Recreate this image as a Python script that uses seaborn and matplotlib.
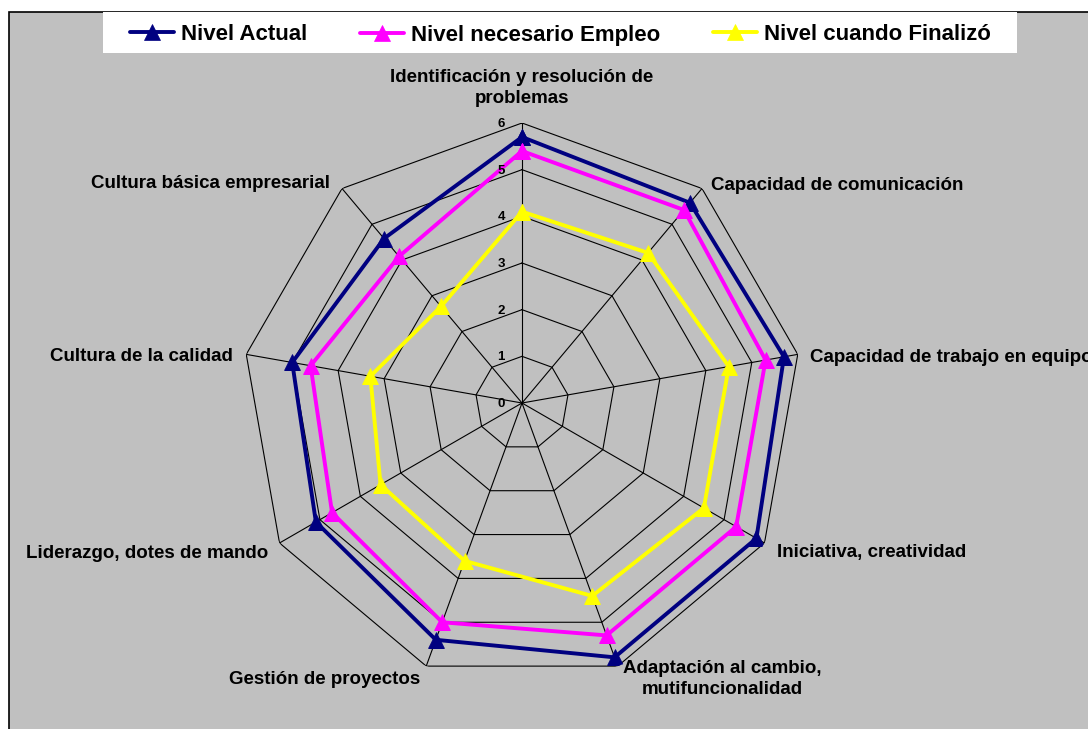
import numpy as np
import pandas as pd
import matplotlib
matplotlib.use("Agg")
import matplotlib.pyplot as plt
from matplotlib.patches import Rectangle
import seaborn as sns

categorias = [
    "Identificación y resolución de\nproblemas",
    "Capacidad de comunicación",
    "Capacidad de trabajo en equipo",
    "Iniciativa, creatividad",
    "Adaptación al cambio,\nmutifuncionalidad",
    "Gestión de proyectos",
    "Liderazgo, dotes de mando",
    "Cultura de la calidad",
    "Cultura básica empresarial",
]
nivel_actual = [5.7, 5.6, 5.7, 5.8, 5.8, 5.4, 5.1, 5.0, 4.6]
nivel_necesario = [5.4, 5.4, 5.3, 5.3, 5.3, 5.0, 4.7, 4.6, 4.1]
nivel_finalizo = [4.1, 4.2, 4.5, 4.5, 4.4, 3.6, 3.5, 3.3, 2.7]
series_nombres = ["Nivel Actual", "Nivel necesario Empleo", "Nivel cuando Finalizó"]
series_colores = ["#000080", "#FF00FF", "#FFFF00"]
niveles = [0, 1, 2, 3, 4, 5, 6]

sns.set_style("white")
plt.rcParams["font.family"] = ["Liberation Sans", "DejaVu Sans"]
plt.rcParams["text.color"] = "black"

W, H = 1088, 729
fig = plt.figure(figsize=(W / 100, H / 100), dpi=100)
fig.patch.set_facecolor("white")
fig.patches.append(Rectangle((9 / W, -0.05), 1.1, 1 - 12 / H + 0.05,
                             transform=fig.transFigure, facecolor="#C0C0C0",
                             edgecolor="black", linewidth=1.2, zorder=-10))
# legend background box
fig.patches.append(Rectangle((103 / W, 1 - 53 / H), (1017 - 103) / W, 41 / H,
                             transform=fig.transFigure, facecolor="white",
                             edgecolor="none", zorder=-5))

cx, cy, R = 522, 403, 280
ax = fig.add_axes([(cx - R) / W, (H - cy - R) / H, 2 * R / W, 2 * R / H],
                  projection="polar")
ax.set_zorder(1)
ax.set_facecolor("none")
ax.set_theta_zero_location("N")
ax.set_theta_direction(-1)
ax.set_ylim(0, max(niveles))
ax.grid(False)
ax.spines["polar"].set_visible(False)

n = len(categorias)
angulos = np.linspace(0, 2 * np.pi, n, endpoint=False)
ang_cerrado = np.append(angulos, angulos[0])

# polygon grid and spokes
for lv in niveles[1:]:
    ax.plot(ang_cerrado, [lv] * (n + 1), color="black", linewidth=0.8, zorder=1)
for a in angulos:
    ax.plot([a, a], [0, max(niveles)], color="black", linewidth=0.8, zorder=1)

# tick labels
for lv in niveles:
    ax.annotate(str(lv), xy=(0, lv), xytext=(-17, -1), textcoords="offset pixels",
                ha="right", va="center", fontsize=9.5, fontweight="bold",
                color="black", zorder=5)

# series
valores = [nivel_actual, nivel_necesario, nivel_finalizo]
for nombre, vals, col in zip(series_nombres, valores, series_colores):
    df = pd.DataFrame({"theta": ang_cerrado, "r": np.append(vals, vals[0])})
    sns.lineplot(data=df, x="theta", y="r", ax=ax, sort=False, estimator=None,
                 color=col, linewidth=2.8, marker="^", markersize=12,
                 markeredgecolor=col, markeredgewidth=0.5, label=nombre,
                 zorder=3)
ax.set_xlabel("")
ax.set_ylabel("")
ax.set_xticks([])
ax.set_yticks([])
ax.set_ylim(0, max(niveles))
handles, labels = ax.get_legend_handles_labels()
if ax.get_legend() is not None:
    ax.get_legend().remove()

# category labels
offs = [
    ((0, 16), "center", "bottom"),
    ((9, 3), "left", "center"),
    ((12, -3), "left", "center"),
    ((13, -10), "left", "center"),
    ((105, 6), "center", "top"),
    ((-6, -13), "right", "center"),
    ((-11, -10), "right", "center"),
    ((-13, -2), "right", "center"),
    ((-12, 5), "right", "center"),
]
for a, lab, (off, ha, va) in zip(angulos, categorias, offs):
    ax.annotate(lab, xy=(a, max(niveles)), xytext=off, textcoords="offset pixels",
                ha=ha, va=va, fontsize=13.5, fontweight="bold", multialignment="center",
                linespacing=1.32, color="black", annotation_clip=False, zorder=5)

# legend entries (one per series, placed side by side)
leg_x = [130, 360, 713]
leg_y = [34, 35, 34]
for h, l, x, y in zip(handles, labels, leg_x, leg_y):
    lg = fig.legend([h], [l], loc="center left",
                    bbox_to_anchor=(x / W, 1 - y / H),
                    frameon=False, borderaxespad=0, borderpad=0,
                    handlelength=2.0, handletextpad=0.3,
                    prop={"size": 16, "weight": "bold"})
    for t in lg.get_texts():
        t.set_color("black")

fig.savefig("out.png", dpi=100)
